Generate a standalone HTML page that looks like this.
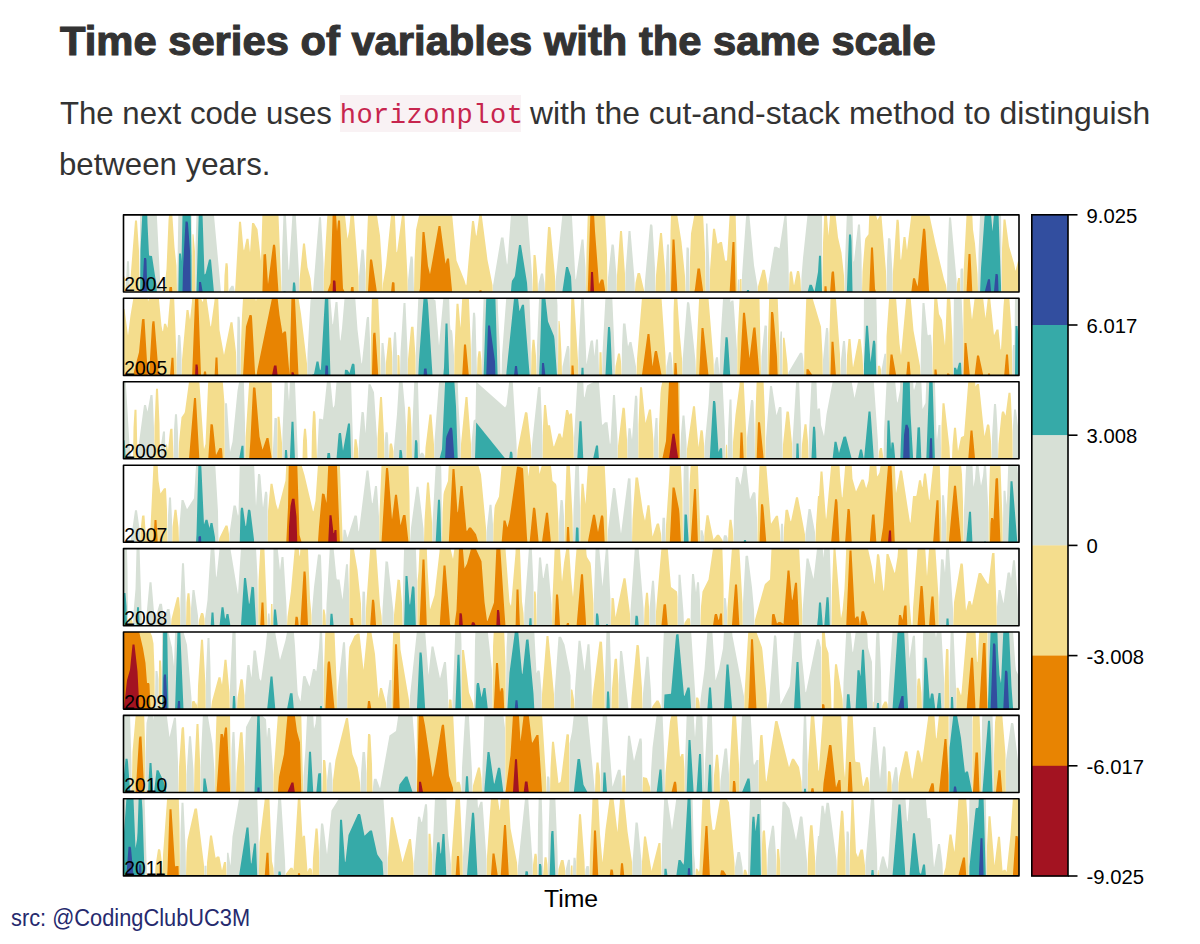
<!DOCTYPE html>
<html><head><meta charset="utf-8"><style>
html,body{margin:0;padding:0;background:#fff;width:1200px;height:944px;overflow:hidden;position:relative}
svg text{font-family:"Liberation Sans",sans-serif}
#t{position:absolute;left:60px;top:17px;margin:0;font:bold 40px/48px "Liberation Sans",sans-serif;color:#333;white-space:nowrap;transform-origin:0 0;transform:scaleX(1.043);-webkit-text-stroke:1.1px #333}
.pt{position:absolute;margin:0;font:31.5px/36px "Liberation Sans",sans-serif;color:#333;white-space:nowrap;transform-origin:0 0}
#cbg{position:absolute;left:340px;top:95px;width:181px;height:37px;background:#f9f2f4}
#code{position:absolute;left:339.7px;top:100.5px;font:27px/30.6px "Liberation Mono",monospace;letter-spacing:0.5px;color:#c7254e;white-space:nowrap}
#s{position:absolute;left:11px;top:902.5px;font:23.5px/30px "Liberation Sans",sans-serif;color:#262a6e;white-space:nowrap;transform-origin:0 0;transform:scaleX(0.928)}
</style></head><body>
<h1 id="t">Time series of variables with the same scale</h1>
<div class="pt" style="left:60.3px;top:95.2px;transform:scaleX(0.989)">The next code uses</div>
<div id="cbg"></div><div id="code">horizonplot</div>
<div class="pt" style="left:530px;top:95.2px;transform:scaleX(1.012)">with the cut-and-stack method to distinguish</div>
<div class="pt" style="left:59.3px;top:146.4px;transform:scaleX(0.99)">between years.</div>
<svg width="1200" height="944" viewBox="0 0 1200 944" style="position:absolute;left:0;top:0">
<defs><clipPath id="c0"><rect x="123.5" y="214.9" width="895.5" height="77.1"/></clipPath><path id="p0" d="M123.5,292 125.6,292 127,261.2 129,261.2 129.9,292 139.5,292 140.5,172.7 144,103.7 146,103.7 146.5,106 147.5,146.5 149,177.9 149.5,178.7 152,178.8 156.5,208.5 160.5,288.4 164,290.7 165,292 177,292 179,176.4 181,176.4 181.5,184.1 183,114.7 185.5,67.4 187.5,67.4 188,69.2 190,96.9 191.5,179.4 191.9,292 195.2,292 195.5,247.3 199,127.8 201,127.8 202.5,136.8 204.5,197.5 205.5,196.6 206,195 209,182.5 211,182.5 221,292 228.5,292 229.5,288.8 231.5,285.8 233.5,285.8 235,292 281.5,292 282,255.3 283.5,214.1 285.5,214.1 286,216.5 288.5,268.9 289,270.4 293,205.5 295,205.5 295.5,209.3 299,274 299.3,292 313,292 319,217.2 321,217.2 323.5,263.1 323.8,292 358.7,292 359,276.3 361.5,249.5 363.5,249.5 364,251.5 365.5,272.9 365.7,292 407.8,292 408,280 410.5,256.6 412.5,256.6 413,259.9 414,292 492.8,292 493,285.5 501,237.5 503.5,237.4 507,264.8 507.5,262.7 511.5,207 512,203.7 514.5,200 515,198.2 519,167.9 521,167.9 527,205.6 532,275.3 532.5,292 538,292 538.5,283.7 541,273.5 543,273.5 544.5,282.7 545,292 555.3,292 555.5,282 562.5,213.6 566,189.9 568,189.9 571,199.5 575.5,279.4 576,278.7 581.5,239.6 583.5,239.6 585.5,267.5 586,292 607.5,292 608,277.8 611.5,244.6 613.5,244.6 614,246.1 616.5,275.7 616.7,292 625.2,292 625.5,272.6 628.5,231 630.5,231 634.5,279 634.9,292 644.5,292 645,280.8 650,224.6 652,224.6 652.5,226 655,268.1 655.5,292 665.7,292 666,264.4 667,244.6 669,244.6 670,292 685.5,292 686.5,247.6 688.5,247.6 689,249.6 689.7,292 705.5,292 706,223.5 707.5,223.5 709.5,267.9 709.8,292 737.5,292 738,279.4 739.5,279.4 739.7,292 741.7,292 742,275.4 746,217.6 747,213 749,213 749.5,216.6 754,265.3 757.5,286.4 757.8,292 767.8,292 768,285.2 774,247.8 774.5,246.7 776.5,246.7 779.5,248.5 784.5,215.7 786.5,215.7 787,224.2 788.5,261.2 789,292 801.1,292 801.5,276.6 803,258.1 807.5,215.3 809.5,207.7 811.5,207.7 812,208.2 814.5,214.8 818,194.9 819,178.7 821,178.7 822,213.4 822.4,292 844.5,292 845,262.4 849,157.4 851,157.4 851.5,164 853.5,261.4 854,261.2 858,224.5 860,224.5 861.5,255 862,292 886.5,292 887,260.9 888,238.3 890,238.3 890.5,239.5 892.5,273.4 892.7,292 947,292 947.5,255.2 949,217.6 951,217.6 956.5,279.1 956.8,292 960.2,292 960.5,269.7 961,268.6 963,268.6 963.3,292 978,292 978.5,254.4 981,191.2 984.5,140.5 985,136.6 988,125.1 990,125.1 992.5,154.3 995.5,119.8 997.5,119.8 998,121.9 1001,208.6 1001.8,292 1019,292Z"/><path id="n0" d="M123.5,292 123.5,276.6 124.5,276.6 125,279 125.6,292 129.9,292 130.5,277.9 135,220.5 137,220.5 139,251.1 139.5,292 165,292 165.5,278.1 166.5,268.9 168.5,220.5 169.5,209.8 170,209.8 172,209.8 174.5,247.3 176.5,265.8 177,292 191.9,292 192.5,234.2 193.5,234.2 195,251.5 195.2,292 224,292 224.5,275.6 225.5,263.2 227.5,263.2 228,267.3 228.5,292 235,292 239,221.8 241,221.8 243.5,249 244,250.4 246.5,238.8 248.5,238.8 250,252.5 252,222.9 254,222.9 257.5,229.2 261,260.9 263.5,177.4 266,177 268,207.2 273,167.7 275,167.7 275.5,171.2 278.5,214.9 281.5,292 299.3,292 299.5,279.7 303,243.5 305,243.5 307.5,267.3 310.5,278.6 312,292 323.8,292 324,272.2 327,220.7 327.5,214.5 330.5,205.9 333,126.2 335,126.2 335.5,127.2 337,154.2 338,143.5 340,143.5 343,211.3 345,215.3 347.5,238.7 349,231.3 351,210.4 351.5,209.8 353.5,209.8 358.5,276.6 358.7,292 365.7,292 366,263.2 368,214.2 370,182.4 372,182.4 372.5,185 380,235.6 382,266.1 382.5,292 383,283.4 386,265.5 392,205.1 394,205.1 394.5,205.9 396.5,252.3 397,252 397.5,249.1 402,215.1 404,215.1 404.5,216 407.5,277 407.8,292 414,292 414.5,261.6 416,229.7 420,211.2 422.5,154.9 424.5,154.9 428,188.8 430,197.2 438.5,148.8 440.5,148.8 445.5,186.6 447,181.4 449,181.4 456.5,260.6 464.5,280.6 466,285.5 466.5,284.3 472,220.9 474,220.9 476,235.3 476.5,235.8 479.5,213.2 481.5,213.2 487.5,259.9 492.5,285 492.8,292 532.5,292 533.5,255 535.5,255 536,258.6 537.5,277.1 538,292 545,292 545.5,267.6 548,226.9 550,226.9 550.5,227.8 555,276.6 555.3,292 586,292 586.5,252.3 591,117.7 593,117.7 595,153.8 599,206.9 601,202.4 603,202.4 603.5,203.1 605,212.5 607,255 607.5,292 616.7,292 617,275.3 620,230.9 622,230.9 625,274.1 625.2,292 634.9,292 635.5,282.8 637.5,273.2 638,272.9 640,272.9 644.5,292 655.5,292 656,275.3 660,233.1 662,233.1 665.5,275.5 665.7,292 670,292 670.5,230.9 672.5,162.3 674.5,162.3 677.5,216.5 681.5,241.9 685,276.1 685.5,292 689.7,292 690,258.5 691,233.5 695,211.3 697.5,191.4 700,191.3 703,212.8 705,252.8 705.5,292 709.8,292 710,270 713,228.7 715,228.7 717.5,243.5 718,243.8 720,241.9 722,241.9 725,260.1 725.5,260.7 727,260.5 732.5,164.8 734.5,164.8 737.5,292 739.7,292 740,279 741.5,279 741.7,292 757.8,292 758,286.4 762.5,269.8 764.5,269.8 765,270.3 767.5,284.1 767.8,292 789,292 789.5,273.9 790,271.6 792,271.6 794,285.4 797,271.1 799,271.1 799.5,273 800.5,279.9 801.1,292 822.4,292 823,243 824.5,209.2 826.5,209.2 828.5,235.8 831.5,196 832,194.3 834,194.3 835.5,214.6 838,237.3 841.5,252.7 844,275.7 844.5,292 862,292 862.5,271.5 865,240.3 865.5,238.3 868.5,234.2 871,170.5 873,170.5 875,211.7 877.5,220 879.5,216 881.5,216 886,271.3 886.5,292 892.7,292 893,271.4 896.5,219.8 898.5,219.8 899,222.9 900.5,258.1 901,260.5 903.5,237 905.5,237 907,250.4 913,201.2 915,201.2 917.5,209.3 918,206.4 923,151.6 925,151.6 925.5,154.7 929,212.9 935.5,243.6 944,278.9 946,285.1 947,292 956.8,292 957,283.9 958,277.9 960,277.9 960.2,292 963.3,292 963.5,273.6 968.5,177 970.5,177 973,229.6 975,243.5 977.5,273.7 978,292 1001.8,292 1002,248.2 1003.5,219.6 1005.5,219.6 1009,246.1 1014,263.4 1015.5,271 1018,261.2 1019,261.2 1019,292Z"/><clipPath id="c1"><rect x="123.5" y="298.3" width="895.5" height="77.1"/></clipPath><path id="p1" d="M123.5,375.4 176.7,375.4 177,355.1 178,334.9 180,334.9 180.5,337.3 181.5,354.9 181.8,375.4 236.5,375.4 237.5,316.8 239.5,316.8 240,321.3 240.8,375.4 307.2,375.4 307.5,353.8 310.5,300.6 311,298.2 314,296.8 316.5,284.4 318.5,284.4 320,292.8 320.5,292.8 321,290.9 325.5,211.4 327.5,211.4 328,212.6 330.5,299.9 332.5,324.5 333,323.8 335.5,302.1 337.5,302.1 340,340.4 340.5,340.3 342,328.2 345,292.6 347.5,292.8 349.5,295.8 352,286.6 354,286.6 354.5,287.6 357.5,329.5 361.5,363.8 362,362.6 366.5,319.3 367,317.1 369,317.1 370,339.3 370.5,375.4 380.5,375.4 381.5,343 383.5,343 385.5,363.8 385.7,375.4 392.3,375.4 392.5,358.1 394,332.2 396,332.2 397,353 397.3,375.4 400,375.4 400.5,352 403.5,302.9 405.5,302.9 407.5,351.2 407.8,375.4 415.7,375.4 416,349.5 419,282.9 424,214.8 424.5,214.3 426.5,214.3 428,226.6 432.5,298.4 435.5,300.6 439,346.1 444,290.6 445.5,246.4 447.5,246.4 450,324 450.5,329.4 452,330.5 452.5,334.3 454,355.7 454.2,375.4 471.2,375.4 471.5,344.5 473,312.7 475,312.7 475.5,318 477,375.4 482,375.4 482.5,329.2 488,171.3 490,171.3 495,207.2 498,310.9 500,351.6 500.5,375.4 501.5,375.4 502,355.5 506.5,294.5 515,211.9 517,211.9 519.5,234.1 522,227.7 524,227.7 529.5,296.3 530.5,330.2 531,375.4 536.5,375.4 537,345.8 540,276.9 542,208.9 544,208.9 548,244.4 554,259 554.5,262.2 557.5,305.3 557.9,375.4 562,375.4 562.5,366.6 567,345.9 569,345.9 569.5,349.5 570.1,375.4 578.2,375.4 578.5,351.7 581.5,290.6 583.5,290.6 586.5,364.5 590.5,341.4 591,340.5 593,340.5 594.5,356.3 596,339.4 598,339.4 599.1,375.4 602.2,375.4 602.5,352.8 608,249.8 610,249.8 610.5,255.6 614.5,349.9 615,375.4 621.5,375.4 622,345.8 623,323.6 623.5,323.4 625.5,323.4 628,346.4 629.5,341.9 631.5,341.9 636,366.4 636.5,375.4 666,375.4 666.5,366.2 669,352.3 671,352.3 672,359.7 673,375.4 682.3,375.4 682.5,362.1 687,302.3 689,302.3 689.5,304.2 695.5,360.9 696,375.4 714,375.4 714.5,364.6 716,357.2 718,357.2 719.6,375.4 720,350.9 721,330.8 725.5,260.1 727.5,260.1 728,263.4 730.5,302.4 731.5,300.6 733.5,300.6 737,350.5 737.2,375.4 761,375.4 761.5,356.3 764.5,325.6 766.5,325.6 767,326.5 767.7,375.4 779.7,375.4 780,339.3 780.5,331.6 782,331.6 782.4,375.4 788,375.4 788.5,372.2 800,352.7 802,352.7 802.5,354.1 803.5,361.5 804,375.4 822.8,375.4 823,360 826,327.9 828,327.9 828.5,333.3 829.2,375.4 840.5,375.4 841,359.8 843,341.1 845,341.1 846,355 846.5,375.4 863.5,375.4 864,286.9 866,248.6 868,248.6 870.5,285.2 873,263.6 875,263.6 875.5,267.6 877,326.9 877.5,375.4 881.3,375.4 881.5,370 884.5,353.7 886,353.7 886.2,375.4 920.5,375.4 921,340.3 922.5,303 924.5,303 927.5,334.1 928,335.4 929,334.7 931,334.7 932,347.6 932.5,375.4 953,375.4 954,290.7 956,290.7 957,293.1 959,285.6 961,285.6 961.5,295.1 963,329.8 963.2,375.4 1012.3,375.4 1012.5,351.5 1013,345.1 1014.5,345.1 1015.5,248.8 1017.5,248.8 1019,264.6 1019,375.4Z"/><path id="n1" d="M123.5,375.4 123.5,309.1 124.5,309.1 128,335.6 130.5,315.2 134,294.5 139,275.2 142,242.6 142.5,241.9 144.5,241.9 148,301.4 149,298.3 152,247.7 152.5,244.1 154.5,244.1 158.5,294.5 161.5,325.7 162.5,331 163,331.2 164,323.8 166,323.8 167.5,327.9 171.5,280.6 173.5,280.6 176.5,358.1 176.7,375.4 181.8,375.4 182,360 186.5,309.9 188.5,309.9 190,319.9 192,301.4 195.5,210.4 197.5,210.4 198,213.5 201,298.3 202.5,301.8 203,301.4 204,294.5 206,294.5 210.5,326.6 211,326.1 214.5,300.4 215.5,280.4 217.5,280.4 219.5,330.1 224,355.1 230.5,322.2 232.5,322.2 236,352.3 236.5,375.4 240.8,375.4 241,343 242,315.3 246,249.4 249.5,237.8 251.5,237.8 252,239.7 255,295.2 256,301.6 257.5,292.1 274,211.3 274.5,211.2 276.5,211.2 279.5,237.8 282.5,256.5 284,254.4 286,254.4 289.5,297.7 291.5,218.1 293.5,218.1 295,222.3 298.5,298.3 301,313.7 307,363.8 307.2,375.4 370.5,375.4 371,333 373,258.2 373.5,255.6 375.5,255.6 378,293.9 380,340.5 380.5,375.4 385.7,375.4 386,361.9 388.5,337.4 391,337.7 392,352.8 392.3,375.4 397.3,375.4 397.5,355.1 399,355.1 399.5,356.5 400,375.4 407.8,375.4 408,359.2 411,326.9 411.5,326.8 413.5,326.8 415.5,356 415.7,375.4 454.2,375.4 454.5,349.6 456.5,303.7 458.5,303.7 460.5,327.9 464,267.4 466,267.4 469,300.4 471,349.7 471.2,375.4 477,375.4 477.5,358.2 478.5,351.2 480.5,351.2 481.5,360.5 482,375.4 500.5,375.4 501,372.5 501.5,375.4 531,375.4 531.5,353.1 532.5,339.7 534.5,339.7 536,356.1 536.5,375.4 557.9,375.4 558.5,321 559.5,321 560,326.1 561.5,353.8 562,375.4 570.1,375.4 570.5,329.3 571.5,288.3 573.5,288.3 578,360.6 578.2,375.4 599.1,375.4 599.5,352.2 601.5,352.2 602.2,375.4 615,375.4 615.5,366.3 618,353.4 620,353.4 621,361.7 621.5,375.4 636.5,375.4 637,359 642,297.7 647.5,257 649.5,257 652.5,289.5 654.5,275.3 655,273.8 657,273.8 661.5,297.7 665.5,355.7 666,375.4 673,375.4 673.5,313.3 674.5,285.8 676.5,285.8 679.5,331 682,358.8 682.3,375.4 696,375.4 696.5,350.2 701.5,250.9 703.5,250.9 708.5,298.3 713.5,360 714,375.4 719.4,375.4 719.5,372.3 719.6,375.4 737.2,375.4 737.5,336.6 743,235.6 745,235.6 749.5,281.1 753,252.1 753.5,250.5 755.5,250.5 759.5,297.8 761,375.4 767.7,375.4 768,338.1 771,234.9 773,234.9 773.5,237.1 777,279.8 779.5,345.4 779.7,375.4 782.4,375.4 783,337.8 784.5,337.8 785,341.1 787.5,364.2 788,375.4 804,375.4 804.5,345.4 806.5,292.2 808.5,292.2 812.5,298.1 821,326.8 822.5,355.3 822.8,375.4 829.2,375.4 829.5,332.3 831.5,264.7 833.5,264.7 840,354.3 840.5,375.4 846.5,375.4 847,355.6 848.5,339.1 850.5,339.1 853,367.5 858.5,339.1 860.5,339.1 861,341.9 862.5,356 863.5,375.4 877.5,375.4 878,365.7 880,365.7 881,369.6 881.3,375.4 886.2,375.4 886.5,336.5 890.5,277.3 892.5,277.3 896,297.4 899.5,343.5 901,355.3 907.5,284.6 909.5,284.6 913.5,330.6 920,366.1 920.5,375.4 932.5,375.4 933,333.8 934.5,292.4 936.5,292.4 939,314 942,320.1 945,345.7 947,296.3 949,296.3 950,297.8 950.5,302 952.5,341.2 953,375.4 963.2,375.4 963.5,302 964.5,266 966.5,266 972,319.8 977,278.4 979,278.4 983,297 985.5,318.3 988,296.4 990,296.4 994,335.2 996.5,329.5 998.5,329.5 1000.5,349.1 1001,349.8 1003.5,305.9 1006,277.3 1008,277.3 1011.5,330 1012.3,375.4 1019,375.4Z"/><clipPath id="c2"><rect x="123.5" y="381.7" width="895.5" height="77.1"/></clipPath><path id="p2" d="M123.5,458.8 123.5,363.2 124.5,363.2 125,368.2 129.5,445 131,458.8 137.5,458.8 138.5,446.5 144,404.9 146,404.9 147.5,411.7 150.5,395 152.5,395 153,402.7 154,428.6 154.2,458.8 160,458.8 161,445.1 163,431.5 165,431.5 165.4,458.8 173.5,458.8 174,429.4 175,414.2 177,414.2 178,433.3 178.5,458.8 224.7,458.8 225,403.2 227,403.2 230,452.1 232.5,441.7 237.5,390.8 241.5,368.6 243.5,368.6 245,422.8 245.3,458.8 272.5,458.8 274.5,417.9 276.5,417.9 277,418.7 277.2,458.8 282.2,458.8 282.5,432.2 285,372.8 287,372.8 289,401.4 291.5,344.7 293.5,344.7 298,458.8 317,458.8 319,418.7 321,418.7 323,419.5 327.5,375.8 330,375.9 333,407.3 333.5,407.6 334.5,405.2 335,400.3 338.5,357.5 339,355.8 341,355.8 343,373.6 348,346.5 350,346.5 353.5,458.8 358.5,458.8 359,441.6 361.5,412 363.5,412 364,413.4 365.5,433.4 368.5,384.3 370.5,384.3 374,392.3 377,438.3 377.3,458.8 384.3,458.8 384.5,443.6 385.5,432.2 387.5,432.2 388,434.9 388.9,458.8 393.7,458.8 394,447.3 397,414 399.5,373 401.5,373 402,375.1 405,408.4 406,426.5 406.3,458.8 412,458.8 412.5,424.2 415,363.2 417,363.2 417.5,366.5 420,454.8 421,452.8 423,452.8 424.5,455.5 425,458.8 434.2,458.8 434.5,441.1 438.5,387.9 439,383.4 442,372.2 446,284.9 446.5,282 450,273.6 452,273.6 452.5,276.8 456,329.2 458.5,404.9 460.5,439.4 460.8,458.8 471.2,458.8 471.5,443 473.5,421.2 474,420.1 504.5,408.6 506.5,404.9 510,374.6 512,374.6 512.5,377 516.5,443.6 517,458.8 531.3,458.8 531.5,449 538,387.6 538.5,387 540.5,387 542.5,434.9 542.7,458.8 573.8,458.8 574,438 579.5,344.2 581.5,344.2 584,396.6 584.5,397.4 587,385.5 593,382.3 596,368.3 598,368.3 602,423.7 602.5,424.9 605,422.3 607.5,422.2 610,444.4 610.5,442.3 613,394.9 615,394.9 617.5,438.7 617.8,458.8 627.3,458.8 627.5,440.5 628.5,428.2 630.5,428.2 632,439.7 635,395.7 637,395.7 637.5,399.8 638.3,458.8 653.7,458.8 654,439.6 655.5,418 657.5,418 658.5,458.8 680,458.8 681,434 682.5,415.4 684.5,415.4 686.5,442.4 686.8,458.8 704.3,458.8 704.5,446.8 708.5,404.2 713,323.8 715,323.8 715.5,326.2 718.5,375 720,371.1 722,371.1 725,432.3 725.4,458.8 727.6,458.8 728,432.1 729.5,399.6 731.5,399.6 732.8,458.8 746.7,458.8 747,437.6 751,399.9 753,399.9 753.5,401.9 754.5,424.7 755,458.8 765.5,458.8 766,438.2 770,386.1 772,386.1 776.5,415.3 779,407.1 781,407.1 781.5,407.8 782.8,458.8 792.2,458.8 792.5,442.2 796,383.9 796.5,366.3 798.5,366.3 801,428 801.5,458.8 808.5,458.8 809,431.9 813,349.6 815,349.6 815.5,354.7 817.5,409.9 818,408.6 820,408.6 821,424.9 824,436.2 826.5,414.2 832.5,382.6 834.5,364.6 836.5,364.6 839,375.8 843.5,359.6 846,359.5 851.5,380.8 854.5,397.9 860,372.5 862,372.5 864,382.4 868.5,334.4 870.5,334.4 871,340.4 878,442.6 878.5,458.8 883.5,458.8 884,431.5 886.5,383.5 887.5,343.4 889.5,343.4 891,372.3 891.5,365.5 893.5,365.5 894,368.4 897,401.5 897.5,402.8 900,390.2 904,280.7 905.5,270.5 907.5,270.5 909,274.9 910.5,335.8 913.5,387.7 914,390.3 916,383.1 917.5,350.5 920,350.2 922.5,408.9 925.5,403.1 930,284 932,284 936.5,434 937,440.2 938.5,424.9 940.5,424.9 941.2,458.8 991.5,458.8 992,437.1 994,404.1 996,404.1 996.5,410.4 997.5,429.8 998,458.8 1012.7,458.8 1013,425.8 1014,409.4 1016,409.4 1019,434.4 1019,458.8Z"/><path id="n2" d="M123.5,458.8 133,458.8 133.5,427.8 134.5,409.7 136.5,409.7 137.5,458.8 154.2,458.8 154.5,425.8 156,388.7 158,388.7 159.5,423.8 160,458.8 165.4,458.8 166,444.4 167,444.4 168,450.6 170,430.1 170.5,428.8 172.5,428.8 173.5,458.8 178.5,458.8 179,442.2 181.5,417.2 184.5,413 185,411.3 189,381.7 194,320.8 196,320.8 199.5,384.2 204,449.2 205.5,444 208,385.9 210.5,347.2 212.5,347.2 213,348.4 216,377.8 219.5,370.8 221.5,370.8 222,372 224.5,403.3 224.7,458.8 245.3,458.8 245.5,438 250.5,361.3 253,310.4 255,310.4 255.5,311.1 259.5,359.4 262.5,372.7 266.5,360.9 268.5,360.9 271.5,379.7 272,389.4 272.5,458.8 277.2,458.8 277.5,416.7 279.5,416.7 282,443 282.2,458.8 302.5,458.8 303,440.8 304,428.8 306,428.8 307,440.8 307.5,458.8 311.5,458.8 312,431.7 313,411.3 315,411.3 315.5,414.7 317,458.8 353.5,458.8 354.5,439.3 356.5,439.3 358,449 358.5,458.8 377.3,458.8 377.5,438.7 380,397.1 382,397.1 384,435.5 384.3,458.8 388.9,458.8 389.5,445.2 390,443.5 392,443.5 393.5,451.3 393.7,458.8 406.3,458.8 406.5,437.5 408,406.7 410,406.7 410.5,409.7 411.5,428.7 412,458.8 425,458.8 425.5,447.6 429.5,414.4 431.5,414.4 434,444.7 434.2,458.8 460.8,458.8 461,444.1 465.5,397 467.5,397 471,444.6 471.2,458.8 517,458.8 517.5,450.6 525,412.3 527,412.3 527.5,413.3 531,445.5 531.3,458.8 542.7,458.8 543,426.5 544,404.9 546,404.9 548,425.2 550,425.2 553.5,445.9 554,446.4 558.5,433.6 560.5,433.6 562,437.9 562.5,437 566,409.9 568,409.9 569.5,415.1 570,413.6 572,413.6 573.5,437.8 573.8,458.8 617.8,458.8 618,446.1 622.5,407.8 624.5,407.8 625,409.4 627,439.4 627.3,458.8 638.3,458.8 638.5,424.7 640,387.3 642,387.3 645.5,423 649,409.5 651,409.5 653.5,441.2 653.7,458.8 658.5,458.8 659,426.5 660.5,393.2 661,388 666,363.9 669,304.6 672.5,279.5 674.5,279.5 678,302.7 679.5,373.4 680,458.8 686.8,458.8 687,449.1 693,406.2 695,406.2 698.5,447.2 700.5,430.2 702.5,430.2 703,432.5 704,443.6 704.3,458.8 725.4,458.8 726,444.7 727,444.7 727.6,458.8 732.8,458.8 733,442.2 735.5,414.4 739.5,384.9 740.5,355.4 742.5,355.4 746.5,439.7 746.7,458.8 755,458.8 755.5,412.6 758,345.1 760,345.1 763.5,379.7 765,418.5 765.5,458.8 782.8,458.8 783,444.6 786.5,411.5 788.5,411.5 789,412.5 792,443.4 792.2,458.8 801.5,458.8 802,443.9 804.5,424.3 806.5,424.3 808,441.3 808.5,458.8 878.5,458.8 879,451.7 880,448.1 882,448.1 883.5,458.8 941.2,458.8 941.5,425 942.5,403.2 944.5,403.2 949.5,447.2 950,458.8 952,458.8 952.5,445.1 954,427.8 956,427.8 958,451.3 961,437.2 964,435.8 970.5,353.5 972.5,353.5 975.5,386.4 977,384.1 979,384.1 984.5,436.3 987,424.6 989,424.6 989.5,425.9 991,441.4 991.5,458.8 998,458.8 998.5,443.8 1001.5,413.8 1002,411.6 1004,411.6 1005.5,415.7 1008.5,392.7 1010.5,392.7 1011,400.2 1012.5,432.9 1012.7,458.8 1019,458.8Z"/><clipPath id="c3"><rect x="123.5" y="465.2" width="895.5" height="77.1"/></clipPath><path id="p3" d="M123.5,542.3 130.5,542.3 135,510.3 137,510.3 140,532.4 140.2,542.3 167.5,542.3 168,515.4 169,497.5 171,497.5 172,519.9 172.3,542.3 179,542.3 179.5,525.3 181.5,499.9 183.5,499.9 187,509.3 194,498.3 196.5,457.4 198.5,382.7 199,382 201,382 204,447.5 205.5,442.7 207.5,442.7 209.5,450.9 210.5,445.9 212.5,445.9 215,460.2 218,511.4 218.5,542.3 229.2,542.3 229.5,533.1 233.5,505.6 235.5,505.6 236,506.1 238,516.1 238.5,513.7 240.5,434.7 241,430.6 243,430.6 245.5,448.6 246,448.8 248,432.6 250,432.6 250.5,433.9 254,462.4 256,506.3 258,474.1 260,474.1 260.5,476.1 263,507.4 265,491.7 267,491.7 267.5,495.4 267.8,542.3 342.8,542.3 343.5,529.8 345.5,529.8 347.5,537.8 354.5,515.6 356.5,515.6 357,516.2 358.5,531.6 359,530.6 366.5,470.6 368.5,470.6 372,502.9 372.5,503.3 375,486.1 377,486.1 379,516.8 379.2,542.3 410,542.3 411,527.5 416.5,486.7 418.5,486.7 423.5,528.4 424,542.3 432.3,542.3 432.5,523.8 438,422.7 440,422.7 440.5,434.8 441.5,480 442,542.3 486.3,542.3 486.5,531.9 489.5,504.8 491.5,504.8 493,524.6 493.2,542.3 558.7,542.3 559,521.4 560.5,499.9 562.5,499.9 563,502.3 564,516.6 564.6,542.3 573,542.3 573.5,509.7 576,450.5 578,450.5 578.5,451.2 580,505.8 580.3,542.3 607.5,542.3 608,529.8 613,488.1 615,488.1 615.5,489.4 621,533.8 628,478.2 630.5,478.5 631.5,505.4 632,542.3 661.5,542.3 662.5,517.8 665,517.8 665.8,542.3 683,542.3 683.5,480 684.5,437.3 686.5,437.3 687,438 688.5,461.8 689.3,542.3 700.3,542.3 700.5,530.2 702.5,530.2 704,536.5 704.2,542.3 723,542.3 723.5,537.2 724,535.3 724.5,535.3 726.5,535.3 727.5,537.7 728,542.3 733.5,542.3 734,511.3 735.5,479.5 736,477 738,477 740.5,484.9 744,462.8 746,462.8 750,499.4 753,492.3 755,492.3 755.5,493.4 757,517.8 757.5,542.3 780.2,542.3 781,523.8 783,523.8 783.7,542.3 805.2,542.3 805.5,533.4 808.5,509 810.5,509 811,510.6 815,532.3 815.5,542.3 941.3,542.3 942,495.3 944,495.3 946,522.9 946.2,542.3 963.5,542.3 964,509.9 966,468 969,434.7 971,434.7 973.5,486.9 975,478.4 976,464.8 978.5,465.2 981,485.8 983,475.8 984,464.3 986,464.3 988.5,512.2 988.7,542.3 1002.7,542.3 1003.5,490.8 1005.5,490.8 1006.5,504.9 1007,499.1 1010.5,404.2 1012.5,404.2 1019,486.4 1019,542.3Z"/><path id="n3" d="M123.5,542.3 140.2,542.3 140.5,530.9 142,516.2 142.5,515.4 144.5,515.4 146,537.4 150.5,527.2 154.5,442.9 156.5,442.9 158.5,480.6 160.5,493.5 164,488.3 166,488.3 167,509.9 167.5,542.3 172.3,542.3 172.5,527 174.5,509.8 176.5,509.8 178.5,527.5 179,542.3 218.5,542.3 219.5,537.8 225.5,525.6 227.5,525.6 228,527.6 229,534.3 229.2,542.3 267.8,542.3 268,511.1 270.5,483.8 272.5,483.8 276,503.7 278,509.7 285.5,480.5 288,430.2 289,372.6 290.5,351.8 292,344.6 292.5,344.5 294.5,344.5 296.5,362.6 299.5,458 304.5,475.1 313,511.3 313.5,510.9 315.5,500.7 319,449.7 322,416.4 324.5,416.8 326.5,426 329.5,361 331.5,361 333.5,378.8 334,378.9 334.5,375.7 336.5,375.7 342.8,542.3 379.2,542.3 379.5,514.5 381.5,465.2 386,391 388,391 388.5,395.2 392,442.5 395,417.7 397,417.7 400.5,448.1 403,438.2 403.5,437.8 405.5,437.8 408.5,465.2 409.5,496 410,542.3 424,542.3 424.5,520.6 427,482.5 429,482.5 432,522.3 432.3,542.3 442,542.3 442.5,512.7 443.5,494.4 444,491.8 448,481 452.5,392 454.5,392 457.5,435.3 458,434.5 460.5,409 462.5,409 466.5,453.4 467,453.8 469,450.5 471,450.5 476,457.2 481,474.5 486,527.5 486.3,542.3 493.2,542.3 493.5,523.8 494.5,508 495,505.2 499,496.5 503.5,443.3 505.5,443.3 507.5,450.4 509.5,442.5 517,389.6 519,389.6 523,391.1 527,460.7 528.5,476.4 533,430.6 535,430.6 535.5,432.7 539.5,474.1 542,464.6 546,435.7 548,435.7 552.5,480.8 556,484 556.5,486 558.5,523 558.7,542.3 564.6,542.3 565,505.9 567,449.9 569,449.9 572.5,515.8 573,542.3 580.3,542.3 580.5,507.1 581.5,483.7 583.5,483.7 585.5,504 588,463.8 593,437.6 595,437.6 598,454.9 601,438.4 603,438.4 603.5,440.9 607,511.8 607.5,542.3 632,542.3 632.5,519.5 635.5,477.5 636,477.5 638,477.5 643,512 645,520.7 647.5,505.3 649.5,505.3 652.5,536.6 656.5,524.3 657,523.4 659,523.4 661,533.7 661.5,542.3 665.8,542.3 666,525 669,480.6 672.5,410.5 674.5,410.5 675,411.9 679,431.9 679.5,437 682.5,498.6 683,542.3 689.3,542.3 689.5,484.6 694,412 696,412 700,522.2 700.3,542.3 704.2,542.3 704.5,532.5 706.5,515.3 708.5,515.3 713.5,539.6 717,534.7 719,534.7 722.5,539.9 723,542.3 728,542.3 728.5,529.3 729.5,519.7 731.5,519.7 733,530.8 733.5,542.3 757.5,542.3 758,503.9 761,427.2 763,427.2 763.5,430.4 771,523.7 776,515.7 778,515.7 780,531.8 780.2,542.3 783.7,542.3 784,527.7 785.5,510.3 786,509.8 788,509.8 790.5,520.9 791,521.2 796,497.2 798,497.2 805,534.5 805.2,542.3 815.5,542.3 816,525 817.5,502.8 818,496 819,496 820.5,471.6 822.5,471.6 826,519.6 826.5,516.5 835,422.2 837,422.2 837.5,425.3 840,475.2 842,497.8 842.5,496.8 844.5,474.3 847.5,431.8 849.5,431.8 850,434.3 852.5,478.8 856,491.6 861.5,479.5 863.5,479.5 864,480.2 866,487.8 866.5,487.5 868.5,480.7 872,438 872.5,437.4 874.5,437.4 877,475 877.5,476.4 879.5,472.4 883,450.1 889,376.3 891,376.3 896,493.3 900,470.6 902,470.6 910,522.5 910.5,522.6 913,496 916,496 916.5,495.2 919,480.2 921,480.2 922,486.6 922.5,486.9 924,473.4 926,473.4 929,499.4 929.5,500.1 933,466.2 936.5,423.1 938.5,423.1 941,504.8 941.3,542.3 946.2,542.3 946.5,517.6 949,463.2 954,408.6 956,408.6 962,474.8 963,501.9 963.5,542.3 988.7,542.3 989,497.6 990.5,445.8 991,441 993,441 993.5,442.9 995.5,402.1 996,401.1 998,401.1 1002.5,519.1 1002.7,542.3 1019,542.3Z"/><clipPath id="c4"><rect x="123.5" y="548.6" width="895.5" height="77.1"/></clipPath><path id="p4" d="M123.5,625.7 123.5,515.9 125.5,515.9 126.5,528.8 127.5,570.2 128,625.7 133,625.7 133.5,612.2 135.5,589.1 137,530.1 139,530.1 142,625.7 145.5,625.7 149.5,582.2 151.5,582.2 154.5,617.8 155,619.3 159.5,603.7 161.5,603.7 162,604.1 164,619.8 167,609.1 169.5,609.1 170.5,616.2 171,625.7 180.2,625.7 180.5,598.4 182,563.2 184,563.2 185.5,596.3 186,625.7 190.8,625.7 191,608.4 192.5,589.9 194.5,589.9 198,615.8 198.5,625.7 204.8,625.7 205,618.7 207.5,599.9 211.5,535.5 213.5,535.5 216,575.4 216.5,577.4 221.5,530.1 223.5,530.1 225,541.2 225.5,541.6 226.5,537 228.5,537 238,594.6 244,500.8 246,500.8 249,526.9 249.5,526.1 251.5,509.7 254,510.1 257.5,576.3 258.2,625.7 267.5,625.7 268,613.4 269.5,613.4 270.5,625.7 273,625.7 273.5,541.4 274,532.5 276,532.5 280,570.2 281.5,557.1 283.5,557.1 286.5,606.5 287,625.7 311.7,625.7 312,610.3 314,587.1 318,554.6 318.5,554.4 320.5,554.4 321,556.3 322,584.4 322.5,625.7 326,625.7 326.5,604.2 330.5,536.7 332.5,536.7 336.5,578.1 337,579.4 339.5,579.4 342.5,599.8 346,564.2 348,564.2 349,590.7 349.2,625.7 361.5,625.7 362.5,591.4 365,591.8 365.8,625.7 382.1,625.7 382.5,609.6 385.5,561.3 388,561.7 393.5,612.3 393.8,625.7 402.6,625.7 403,586.8 405.5,499 407.5,499 409.5,526.2 410,527.8 412,509.3 414,509.3 414.5,510.8 417,580.2 417.3,625.7 524,625.7 524.5,607.3 529.5,541.2 531.5,541.2 533.5,586.6 533.8,625.7 536.7,625.7 537,595.7 539,557.6 541,557.6 543,577.9 543.5,578 546,563.7 548,563.7 551.5,604.2 552.1,625.7 593.7,625.7 594,595.1 596,536.4 598,536.4 598.5,539.2 602.5,586.6 606,547.2 608,547.2 610.5,600.5 610.8,625.7 630.2,625.7 630.5,610.2 635.5,538.6 637.5,538.6 638,540.3 643.5,607.8 644,625.7 649.3,625.7 649.5,609.2 652,580.7 654,580.7 655.5,604.5 655.8,625.7 677.7,625.7 678.5,574.8 680.5,574.8 683.5,612.6 684,625.7 690.5,625.7 691,596.3 692,574 694,574 696,592.6 697,582.3 699,582.3 700,599.7 700.4,625.7 723.8,625.7 724,597.9 725.5,597.9 726,599.6 727,611 727.2,625.7 742.7,625.7 743,602.1 745.5,556.3 746,555.8 748,555.8 752,587.5 754,609.7 754.5,625.7 802.3,625.7 802.5,611.4 806.5,558.6 808.5,558.6 813.5,579.1 818,540.3 819,525.5 821,525.5 823.5,558 826.5,520.1 828.5,520.1 829,526.9 831,585.3 831.5,625.7 911.5,625.7 912,621.8 912.6,625.7 938.8,625.7 939,602.6 941,559.3 943.5,559.6 945,573.1 946.5,541.4 948.5,541.4 953,608.9 953.2,625.7 996.8,625.7 997,607 998.5,590.1 1000.5,590.1 1003.5,603.6 1007.5,572.9 1008,572.5 1010,572.5 1011,578.8 1013,560.2 1015,560.2 1019,615.8 1019,625.7Z"/><path id="n4" d="M123.5,625.7 128,625.7 129,618 131,618 132.5,621.4 133,625.7 171,625.7 171.5,619 177,597.2 179,597.2 180,609.4 180.2,625.7 186,625.7 186.5,602.5 187.5,593.3 189.5,593.3 190.5,607.2 190.8,625.7 198.5,625.7 199,620 201,613.1 203,613.1 203.5,614.1 204.5,618.7 204.8,625.7 258.2,625.7 258.5,581 261.5,525.5 263.5,525.5 267.5,625.7 270.5,625.7 271,604.1 272.5,604.1 273,625.7 287,625.7 287.5,616.8 291,591 295.5,539.7 297.5,539.7 298,541.2 299.5,556.4 300,554.5 303.5,494.4 305.5,494.4 306,499.8 310,598.4 311.5,614.9 311.7,625.7 322.5,625.7 323,609.4 324.5,609.4 325.5,615.3 326,625.7 349.2,625.7 349.5,570.4 350.5,540.8 352.5,540.8 357.5,569.8 361,604.1 361.5,625.7 365.8,625.7 366,608.4 372,522.6 374,522.6 374.5,526.2 380,604.9 381.5,615.8 382.1,625.7 393.8,625.7 394,615.1 397.5,579.6 400,580 402,603.3 402.6,625.7 417.3,625.7 417.5,581.2 418.5,571 422.5,482.4 424.5,482.4 427.5,568.1 430,609.5 434.5,595.3 439.5,551.5 443.5,488.5 445.5,488.5 450,546.4 453,559.1 456.5,533.2 459.5,459.1 461.5,459.1 462,460.7 464.5,491.4 467,486.6 472,468.1 474,468.1 474.5,468.6 481.5,484.2 484.5,524.9 487,543.6 487.5,543.8 494,525.5 497,455.9 499,455.9 499.5,458.7 504.5,535.4 509.5,602 510,603.7 511,606.1 515.5,553 516.5,512.3 518.5,512.3 522,601.5 523.5,613.3 524,625.7 533.8,625.7 534,591.4 535.5,591.4 536,594.8 536.7,625.7 552.1,625.7 552.5,597.9 556,517.3 558,517.3 558.5,522.6 562,581.7 564,562.7 566.5,547.3 567,546 569,546 571,577.1 573,597.3 575.5,561.1 581,497.1 583,497.1 586.5,554.2 587,556.9 590.5,562.7 591,566.4 593.5,603.8 593.7,625.7 610.8,625.7 611.5,597.9 613.5,597.9 614,599.2 615.5,617.3 623.5,578.3 625.5,578.3 626,581.3 630,614.1 630.2,625.7 644,625.7 644.5,608.9 646,592.7 648,592.7 649,606.7 649.3,625.7 655.8,625.7 656,611.8 661,552.9 663.5,527.6 664,527.2 666,527.2 671,587.1 677,591.6 677.5,596.8 677.7,625.7 684,625.7 684.5,622.8 687.5,618.3 689.5,618.3 690,618.9 690.5,625.7 700.4,625.7 701,606.2 702.5,591.4 708.5,579.6 714.5,538.2 715,536.9 717,536.9 718.5,542.8 719,542.4 720,536.5 722,536.5 723.5,584.4 723.8,625.7 727.2,625.7 727.5,607.8 735,507.5 737,507.5 737.5,515.1 742.5,603.6 742.7,625.7 754.5,625.7 755,619.8 764.5,585.3 765,583.9 770,579.5 772,538.1 772.5,537 774.5,537 777,546.4 778.5,544.8 780.5,544.8 783.5,547 787.5,493.5 789.5,493.5 792,522.9 792.5,522.3 795,505.7 797,505.7 802,605.2 802.3,625.7 831.5,625.7 832,587.4 833.5,549.1 835.5,549.1 841,618.2 842.5,610.6 844.5,588.5 849.5,473.3 851.5,473.3 855,541.5 856.5,539.5 858.5,539.5 860,548.6 861.5,535 862,534.2 864,534.2 868,548.7 872,566.7 874.5,584.6 877,554.2 879,554.2 879.5,556.8 883.5,590.8 884,590.3 886.5,554.1 888.5,554.1 894.5,572.7 895,572.6 897.5,556.8 899,538 901,538 902.5,542.9 904,529.8 904.5,528.4 906.5,528.4 909.5,602.2 911.5,625.7 912.6,625.7 913,608.5 920.5,508.8 922.5,508.8 923,513.1 927,576.3 931,522.8 931.5,519.3 933.5,519.3 938.5,596.8 938.8,625.7 953.2,625.7 954,602.3 960.5,563.4 962.5,563.4 963,565.3 966,610.8 968.5,601.1 970.5,601.1 972,605.5 978.5,573.6 979,572.9 981,572.9 986,581.2 988,584.1 988.5,583.8 992,553.5 992.5,553.1 994.5,553.1 996.5,606.1 996.8,625.7 1019,625.7Z"/><clipPath id="c5"><rect x="123.5" y="632" width="895.5" height="77.1"/></clipPath><path id="p5" d="M123.5,709.1 154.8,709.1 155.5,671.1 157.5,671.1 158.5,679.6 158.7,709.1 161.7,709.1 162,646.7 163.5,524.3 164,520.4 166,520.4 167,540 168.5,632.6 172,647.4 174,666.5 177.5,552.9 178,546.9 180,546.9 183.5,632 187,644.8 191.5,698.3 191.8,709.1 205.7,709.1 206,673.5 207.5,637.9 209.5,637.9 210.5,668.4 211,709.1 229.7,709.1 230,686.5 233,618.8 235,618.8 235.5,627.6 237,709.1 244.8,709.1 245,695.5 247,668.2 247.5,664.9 249.5,664.9 251.5,677.7 253.5,650.5 255.5,650.5 256,650.9 259.5,678.5 261,681 265.5,648.6 270.5,599.3 272.5,599.3 275.5,634.2 280,660.1 285.5,640.3 290,616.1 292.5,616.2 295,645.5 297.5,690.6 298,694.7 300.5,701.6 303,676.9 303.5,676.1 305.5,676.1 309.5,686.6 313,669.1 315,669.1 316,671.6 316.5,670.5 319,647.4 320,628.9 322,628.9 323.5,671.7 323.7,709.1 337,709.1 337.5,692 343,642.2 345,642.2 347,685.6 347.2,709.1 386.5,709.1 387,698.1 389.5,680 391.5,680 391.7,709.1 409.5,709.1 410,696 417,630.2 419.5,575.4 421.5,575.4 422,578.9 425,629.2 428.5,675 431.5,646.6 433.5,646.6 440,678.6 444,662.1 446,662.1 448,692.2 448.4,709.1 452.2,709.1 457.5,577.6 459.5,577.6 460,592.4 461.5,644.5 461.8,709.1 474,709.1 475,641.3 476.5,608.2 477,605.9 479,605.9 481.5,620.3 483.5,610.8 485.5,610.8 492,670.1 492.5,709.1 505.8,709.1 506.5,647.4 509.5,595.6 514.5,557.4 515.5,546.1 517.5,546.1 522,596.5 522.5,596.8 526,563.1 526.5,562.5 528.5,562.5 533.5,616.6 536.5,673.2 537.5,670.5 539.5,670.5 540,672.9 541.5,691.8 541.8,709.1 554.2,709.1 554.5,693.3 558.5,637 559,636.8 561,636.8 564.5,644.6 570.5,675.6 570.8,709.1 574.5,709.1 575,688.6 578.5,640.7 580.5,640.7 584.5,670.9 587.5,644.2 589.5,644.2 591.5,679.6 592,709.1 604.7,709.1 605,677.5 607,614.4 609,614.4 609.5,622.3 611,669.6 611.5,709.1 618.7,709.1 619,679.4 620,650.9 622,650.9 622.5,654.1 628.5,709.1 642.5,709.1 643,693.4 646.5,656.7 648.5,656.7 651,691.6 651.5,709.1 661.5,709.1 662,674.6 664.5,617.3 671,616.6 676,558.4 676.5,557.2 678.5,557.2 684,618.3 684.5,618.8 687.5,610.3 689.5,610.3 690,613.7 695.5,698.5 695.7,709.1 700,709.1 700.5,699.5 704.5,669.5 709,610.4 711,610.4 715.5,680.4 719,669 723,648.3 726.5,587.5 728.5,587.5 732.5,636.1 744,696.3 744.2,709.1 767,709.1 769,701.4 774,635.5 776,635.5 776.5,638.1 780.5,704.8 789.5,686.6 790,683.8 794,632 796.5,585 798.5,585 802,657.6 805.5,692.3 806,692.1 816.5,640.9 817,639.3 819,639.3 821,647.4 821.3,709.1 843,709.1 843.5,683.1 847,617.1 849.5,617.1 852.5,651.8 853,651.7 855.5,633.6 857.5,593.1 859.5,593.1 860.5,599.4 862,572.7 864,572.7 868,647.5 872,661.9 872.9,709.1 873.7,709.1 876,638.8 877,625.8 879,625.8 881,672.3 881.5,709.1 888,709.1 888.5,692.5 897.5,556.2 901.5,541.8 903.5,541.8 909.5,658.7 912.5,637.5 913,635.7 915,635.7 916.5,679.5 916.8,709.1 922,709.1 922.5,657.4 924.5,580.7 926.5,580.7 927,584.2 929.5,620.1 930,622.2 931,616.4 933,616.4 933.5,617.3 936,637.9 938.5,615.8 940.5,615.8 944,678.1 944.3,709.1 949.3,709.1 949.5,673 951,619.8 953,619.8 956,686.8 956.3,709.1 987.7,709.1 988,625.9 993,489.2 995,489.2 995.5,491.4 998,573.5 999.5,597.9 1001,606.1 1005,516.6 1007,516.6 1007.5,518.6 1011.5,609.3 1015.5,666.4 1016,670.3 1019,676.3 1019,709.1Z"/><path id="n5" d="M123.5,709.1 123.5,557.2 127,526 130,515.6 132.5,490.3 134.5,490.3 137.5,517.3 139.5,556.1 143,571.2 145.5,586 147,605.8 149,605.8 149.5,607.5 150.5,632.8 152,636 153.5,643.6 154.5,670.2 154.8,709.1 158.7,709.1 159,660.4 161,660.4 161.5,669.6 161.7,709.1 191.8,709.1 192,702.3 192.5,701 194.5,701 196.5,705 197,701.4 197.5,709.1 198,686 201,639.7 203,639.7 205.5,685 205.7,709.1 211,709.1 212,701.2 218.5,677.3 220.5,677.3 222,684.7 224.5,659.8 226.5,659.8 229.5,692.7 229.7,709.1 237,709.1 237.5,697.8 240.5,679.3 242.5,679.3 243,681.3 244.5,695.2 244.8,709.1 323.7,709.1 324,670.6 325,639.7 327.5,586.9 328,584.5 330,584.5 334.5,631.6 336.5,680.3 337,709.1 347.2,709.1 347.5,681.1 349,651.5 349.5,646.8 354.5,635.8 357.5,633.6 359.5,633.6 363.5,669.9 368,623.8 370,623.8 375,654.1 378.5,698.3 380,688.1 382,688.1 386,702.9 386.5,709.1 391.7,709.1 392,670.4 395,567.1 397,567.1 400.5,649.4 409,700 409.5,709.1 448.4,709.1 449,699.4 451,699.4 451.5,700 452.2,709.1 461.8,709.1 462,649.9 464,649.9 469,692.4 473,703.2 474,709.1 492.5,709.1 493,646.6 496,585.9 498,585.9 500,614.9 501,611.2 503,611.2 503.5,614.7 505.5,663.6 505.8,709.1 541.8,709.1 542,694.5 546.5,635.9 548.5,635.9 554,694.5 554.2,709.1 570.8,709.1 571,689.6 572,689.6 572.5,690.3 574,699.4 574.5,709.1 592,709.1 592.5,696.4 599.5,641.5 602,641.7 604.5,683.8 604.7,709.1 611.5,709.1 612,688.8 614.5,659.8 615,658.7 617,658.7 618.5,684.3 618.7,709.1 631,709.1 631.5,698 636.5,645 638.5,645 639,646.8 642,688.3 642.5,709.1 651.5,709.1 652.5,706 656.5,700.6 658.5,700.6 660.5,704.7 661.5,709.1 695.7,709.1 696,697.5 698,697.5 698.5,698.4 699.5,702.4 700,709.1 744.2,709.1 744.5,694 749,620 751,562.1 753,562.1 756.5,632.2 762,647.5 762.5,650.9 766.5,694.2 767,709.1 821.3,709.1 822,627.1 824,627.1 824.5,628.5 826,646 828.5,653.1 831,691.2 831.5,709.1 833.5,709.1 834,681.8 835,664.3 837,664.3 842.5,699.2 843,709.1 872.9,709.1 873,701.8 873.5,701.8 873.7,709.1 881.5,709.1 882.5,705.2 884.5,701.6 886.5,701.6 887.5,704.2 888,709.1 916.8,709.1 917,686.9 917.5,679.5 918,678.5 920,678.5 921.5,693.1 922,709.1 944.3,709.1 944.5,685 946,649.1 948,649.1 948.5,649.9 949.3,709.1 956.3,709.1 956.5,687.7 958.5,687.7 961,695.6 961.5,692.8 971,580.7 973,580.7 977,662.1 977.5,661.7 983,566 983.5,565.9 985.5,565.9 987.5,632.6 987.7,709.1 1019,709.1Z"/><clipPath id="c6"><rect x="123.5" y="715.4" width="895.5" height="77.1"/></clipPath><path id="p6" d="M123.5,792.5 123.5,703 125.5,681.7 127.5,681.7 128,684.7 130,713.1 131.5,764.8 131.7,792.5 145.3,792.5 145.5,755.2 146.5,723.1 148,716.2 149.5,685.9 151.5,685.9 153.5,720.3 156.5,693.1 158.5,693.1 163.5,703.9 167,717 169.5,737.2 174,717.7 176,717.7 178,762.6 178.5,792.5 186.3,792.5 186.5,774.6 189,736.2 191,736.2 193.5,770 194,792.5 200.3,792.5 200.5,767 203.5,701.5 205.5,701.5 212.5,743.8 214.5,771 215,792.5 231,792.5 231.5,749.3 232.5,732.1 234.5,732.1 235.5,758 236,792.5 244.7,792.5 245,753.7 246,727.1 251.5,716.2 254.5,715.5 257.5,633.4 259.5,633.4 262,715.6 266,719.3 267,738.1 268,727.9 270,727.9 273,771.3 273.3,792.5 303.3,792.5 303.5,776.3 305.5,748.6 309,674.6 311,674.6 314,728.7 315.5,723.7 318,697.9 318.5,696.1 321,696.1 322.4,792.5 326.8,792.5 327,780.5 329,762.5 331,762.5 332.5,780.5 332.7,792.5 360.5,792.5 361,773.2 362.5,752.1 365,752.1 366.5,773.2 366.7,792.5 372.5,792.5 373.5,781.7 374,779 374.5,778.7 376.5,778.7 380,788.5 389.5,735.4 396,730.9 399.5,707.3 405.5,699.4 407.5,699.4 412.5,714.9 416,760.3 416.5,792.5 461.5,792.5 462,768 466,699.2 468,699.2 472,772.6 472.5,792.5 482.1,792.5 482.5,765.4 484.5,711.1 487.5,675 489.5,675 494,706.4 494.5,706.3 498,690.7 500,690.7 500.5,692.6 505,727.9 505.2,792.5 546.3,792.5 547,776.6 549,776.6 549.5,778.6 550,792.5 569.3,792.5 569.5,743.8 572,731.5 577.5,682.2 578,681.8 580,681.8 583.5,707.7 587.5,715.1 595,792.5 600.5,792.5 601,760 603.5,695.5 605.5,695.5 612.5,786.8 618,769.8 620.5,769.7 621.5,778.5 622,792.5 625.7,792.5 626,771.2 628,735.8 630,735.8 634,761.1 639.5,738.4 641.5,738.4 642,742.7 642.5,792.5 650.5,792.5 651,772.4 652.5,748 659.5,692.5 661.5,692.5 662,700.6 664.5,761.2 665,792.5 684.7,792.5 685,762.4 688.5,662.8 690.5,662.8 695,737.4 699,677 701,677 704,766.1 704.4,792.5 705,764.1 709,687.7 711,687.7 713,750.6 713.5,792.5 720,792.5 720.5,780.6 724.5,748.9 725,748.4 727,748.4 729,774.6 729.2,792.5 739.3,792.5 739.5,769.1 742,715.2 747.5,701.4 749.5,701.4 750,704.9 753.5,762.5 754,765.2 756.5,760.1 758.5,760.1 758.7,792.5 802,792.5 802.5,756.4 804,711.6 806,711.6 807.5,760.1 807.8,792.5 869.5,792.5 870,771.8 873.5,726.9 875.5,726.9 880,779.3 883,746.5 885,746.5 885.5,748.8 886.5,766.5 887,792.5 891.8,792.5 892,785 895,767.2 897,767.2 898,778.3 898.3,792.5 949,792.5 949.5,671 954,632.4 956,632.4 961,661 965,696 966,694.3 968,694.3 972,714.5 972.3,792.5 981.2,792.5 982,720.8 988,643.6 990,643.6 990.5,653.9 993.5,745.3 993.8,792.5 1005.8,792.5 1006,760.1 1011,722.9 1013,722.9 1013.5,724.2 1019,768.1 1019,792.5Z"/><path id="n6" d="M123.5,792.5 131.7,792.5 132.5,752 135.5,717.3 139,661.5 139.5,659.4 141.5,659.4 144,708.8 145,741.1 145.3,792.5 178.5,792.5 179,767.1 181.5,729 182,727.2 184,727.2 186,766.4 186.3,792.5 194,792.5 194.5,765.1 196.5,723.9 198.5,723.9 200,760.2 200.3,792.5 215,792.5 215.5,746.3 216.5,715.4 220.5,656.9 222.5,656.9 223,657.4 223.5,660.9 225,650.3 227,650.3 230,711.7 231,792.5 236,792.5 236.5,773.4 240,733.1 240.5,732.2 242.5,732.2 244.5,766.7 244.7,792.5 273.3,792.5 273.5,774.5 279,700 284,676.9 287.5,637.9 291.5,628.3 293.5,628.3 297,654.4 300,665.5 303.3,792.5 322.4,792.5 323,759.9 325,759.9 325.5,761.8 326.5,776 326.8,792.5 332.7,792.5 333,780.3 335.5,760 346,718.1 348,718.1 352,751.8 352.5,754.6 357.5,767.3 360,782.6 360.5,792.5 366.7,792.5 367,761.5 368,733.9 370,733.9 370.5,735.6 372,764.1 372.5,792.5 416.5,792.5 417,711.9 419,627.5 421,627.5 425,648.3 432.5,699.7 433,699.2 435.5,686.2 441.5,649.4 442,647.7 444,647.7 449,698.7 453,710.8 456.5,782.8 457.5,781.8 459.5,781.8 460.5,785 461.5,792.5 472.5,792.5 473,785.4 478,767.4 480,767.4 481.5,778.2 482.1,792.5 505.2,792.5 505.5,715.1 510.5,678.1 515,605.1 517,605.1 520.5,664.5 525,627.3 527.5,627.3 532,665.3 532.5,665.4 536.5,658 538.5,658 546,777.1 546.3,792.5 550,792.5 550.5,767.9 552,741.7 554,741.7 558.5,783.3 560.5,781.8 561,779 566.5,734.2 568.5,734.2 569,735.2 569.3,792.5 595,792.5 595.5,774.5 596.5,762.5 598.5,762.5 600,776 600.5,792.5 622,792.5 622.5,776.1 623,775.6 625,775.6 625.7,792.5 642.5,792.5 643,777.1 647,777.9 650,786.9 650.5,792.5 665,792.5 665.5,772.9 670,721.3 674,704.7 676,704.7 676.5,707.9 680,756.5 680.5,756.4 681.5,754 683.5,754 684.5,769.4 684.7,792.5 704.4,792.5 704.5,787.6 704.6,792.5 713.5,792.5 714,775.4 716,754.8 718,754.8 718.5,759.5 719.5,772.7 720,792.5 729.2,792.5 729.5,771 733,704 735,704 735.5,706.3 739,764.6 739.3,792.5 758.7,792.5 759,759.9 760,737.3 760.5,734.9 762.5,734.9 766,781.4 766.5,780.9 775,721.8 775.5,721.1 777.5,721.1 789,767.2 792,758.7 794,758.7 799,766.9 801.5,781.6 802,792.5 807.8,792.5 808,764.8 811,713.7 811.5,711.1 813.5,711.1 814,713.8 818.5,771.2 819,769.4 823.5,706.1 829,667.8 831,667.8 831.5,668.5 836,710.4 838.5,702.8 840.5,702.8 844,768.2 845,777.9 849,685 851,685 855,758.6 855.5,761.7 860,762.4 863,786.3 863.5,786 866,777.2 868,777.2 869,783.3 869.5,792.5 887,792.5 888,771.3 890,771.3 890.5,772.2 891.5,781.3 891.8,792.5 898.3,792.5 898.5,783 899.5,776.1 905,751.3 907.5,751.5 912,778.8 912.5,778.3 917,750.6 919,750.6 922,763.1 928.5,714.9 931.5,706.1 933.5,706.1 934,709 936,737.5 936.5,738.8 944.5,661.9 946.5,661.9 948.5,697.6 949,792.5 972.3,792.5 972.5,721.5 975.5,675.5 978,675.5 981,754.3 981.2,792.5 993.8,792.5 994,755.2 995,722.6 998.5,693.2 1000.5,693.2 1005.5,754.3 1005.8,792.5 1019,792.5Z"/><clipPath id="c7"><rect x="123.5" y="798.8" width="895.5" height="77.1"/></clipPath><path id="p7" d="M123.5,875.9 123.5,761.8 128.5,692.6 130.5,692.6 131,693.8 133.5,721.7 135.5,771.1 137,762.6 137.5,755.3 139,710.2 141,710.2 142.5,733.1 147,875.9 180,875.9 180.5,832 181.5,802.7 183.5,802.7 185.5,846.6 186,875.9 204.3,875.9 204.5,865.8 206.5,865.8 206.7,875.9 226.5,875.9 227,852.8 228.5,852.8 230.5,865.7 232.5,836.4 239,798.8 246.5,750.3 248.5,750.3 251,786.7 251.5,785.9 254,766.5 256,766.5 258.5,831.2 258.9,875.9 274,875.9 274.5,855.6 278.5,794.4 280.5,794.4 281,797.2 285,860.2 285.5,875.9 319.2,875.9 319.5,851.3 321,823.5 323,823.5 323.5,825.4 327,854.4 331.5,810.4 338.5,799.3 340,742.6 342,742.6 345,784.8 345.5,784.4 348.5,758 358,736.8 360,736.8 360.5,738.1 364.5,758.6 370,753.4 372,753.4 377,776.1 377.5,777.6 382.5,784.8 387.5,858.2 387.7,875.9 413.7,875.9 414,861.7 418,816.7 420,816.7 421.5,821.9 422,821.9 425,804.2 427,804.2 427.5,813.7 428,875.9 432.2,875.9 432.5,853.7 435.5,787.1 437,767.4 437.5,765.2 439.5,765.2 440.5,776.3 441,776.2 442.5,757 444.5,757 448,835.5 451,864.4 451.2,875.9 462.8,875.9 463,856.8 467,797.8 472,735.6 474,735.6 474.5,741.3 478,808.6 480.5,801.8 482.5,801.8 486.5,859.2 486.7,875.9 517.8,875.9 518,866 525.5,794.1 527.5,794.1 528,795.2 532.5,861.3 532.8,875.9 537.5,875.9 538,825.7 539,786.9 541,786.9 541.5,789.3 542.5,825.1 543,875.9 548,875.9 548.5,834 551,757.6 551.5,753.8 553.5,753.8 557.5,851.5 558,875.9 565.3,875.9 565.5,870.8 568,859.7 570,859.7 570.4,875.9 572.7,875.9 573.5,857.7 575.5,857.7 576,861.5 576.2,875.9 585,875.9 585.5,869.3 586.5,865.9 588.5,865.9 589,866.7 589.5,875.9 632.3,875.9 632.5,862.6 635.5,822.6 637.5,822.6 638,824 641.5,861.3 641.8,875.9 661.5,875.9 662,845.8 664.5,791.7 666.5,791.7 672,829.9 678.5,782.9 680.5,782.9 683.5,787.7 684,784.3 688,714 690,714 690.5,720.7 694,853.6 695,863.5 695.4,875.9 734.8,875.9 735,867.3 737.5,852 740,852 742.5,867.3 743,875.9 748,875.9 748.5,838.6 752,745.8 752.5,739.6 754.5,739.6 755.5,754.4 757.5,736.8 759.5,736.8 761.5,823.8 761.8,875.9 767,875.9 768,850.2 772,825.8 774,825.8 774.5,831.2 776,855.6 776.2,875.9 780.2,875.9 780.5,850 782.5,802.2 783,801.8 785,801.8 789.5,808.5 796,840.2 800,816.5 802,816.5 802.5,817.5 807,861.3 807.5,875.9 815.3,875.9 815.5,863.7 817.5,841 818,835.9 819,835.9 821.5,805.8 823.5,805.8 825,814.5 826.5,802.7 828.5,802.7 829,803.5 836.5,860.2 837,875.9 845.7,875.9 846.5,831.5 848.5,831.5 849,834.5 849.7,875.9 865.2,875.9 865.5,862.2 871.5,793 873.5,793 874,798.3 877,853.7 877.4,875.9 879,875.9 879.5,868 882,856.4 884,856.4 887.5,869.2 888,865.9 892.5,798.3 898.5,727.3 900.5,727.3 907,820.5 907.5,821.8 913,756.1 915,756.1 919.5,795.3 921,797 923,787.5 925,787.5 927.5,818.3 930,817.9 930.5,819.7 934,867.6 938,843.9 940,843.9 942.5,863.6 943,875.9 968.5,875.9 969.5,789.5 975.5,732.5 976,730.8 978,730.8 978.5,729.2 980.5,684.1 982.5,684.1 986,805.9 986.8,875.9 1019,875.9Z"/><path id="n7" d="M123.5,875.9 155,875.9 155.5,865.9 158,849.3 160,849.3 160.5,851 162,863.4 162.5,875.9 163,855.1 167.5,793.1 169.5,732.1 171.5,732.1 175,788.4 175.5,789.5 176.5,788.8 178.5,788.8 179.5,823.7 180,875.9 186,875.9 186.5,852.3 187.5,839.7 194.5,808.8 195,808.6 197,808.6 204,865.1 204.3,875.9 206.7,875.9 207,862.6 210,835.4 212,835.4 215.5,857.4 216,857.7 217,856.4 219,856.4 219.5,856.9 222,870.4 224,862.1 226,862.1 226.5,875.9 258.9,875.9 259.5,842.3 264.5,801.6 266.5,775.7 268.5,775.7 272,861.3 273.5,868.2 274,875.9 285.5,875.9 286,873.4 290.5,867.7 292.5,867.7 293.5,870.3 298,796.2 300,796.2 300.5,800.3 302.5,837.7 303,835.7 305,835.7 307.5,871.7 309,868.2 311,868.2 312,870 312.5,875.9 313,858.2 315.5,828.6 317.5,828.6 318,833.1 319,852.5 319.2,875.9 387.7,875.9 388,857.5 391,817.2 393,817.2 402.5,862.3 409,838.9 411,838.9 413.5,863.6 413.7,875.9 428,875.9 428.5,833.8 430.5,833.8 432,854.8 432.2,875.9 451.2,875.9 451.5,857.4 457,779 459,779 462.5,851.1 462.8,875.9 486.7,875.9 487,856.2 492.5,776.3 494.5,776.3 499.5,810.1 500,809.7 504,748 506,748 510.5,828.2 517,862.5 517.8,875.9 532.8,875.9 533,864.8 534.5,853.7 536.5,853.7 537,857 537.5,875.9 543,875.9 544.5,857.3 546.5,857.3 547.5,864.4 548,875.9 558,875.9 558.5,868.9 561,860 563.5,860.1 565,868.3 565.3,875.9 570.4,875.9 571,865.6 572.5,865.6 572.7,875.9 576.2,875.9 576.5,855.4 579,814.3 581,814.3 584.5,861.4 585,875.9 589.5,875.9 590,852.1 592,811.8 594,753.4 596,753.4 600,834 602.5,862.5 605.5,829.4 610.5,792.4 612.5,792.4 613,794 617.5,832.3 621,786.1 623,786.1 627.5,831.2 632,862.1 632.3,875.9 641.8,875.9 642,861.8 644,836.6 646,836.6 651.5,871 658.5,843.1 660.5,843.1 661.5,875.9 695.4,875.9 696,868.6 697.5,869.1 699,871.9 699.5,868.7 702.5,796.1 705.5,748.8 707.5,748.8 710.5,812.5 712.5,829.2 713,830 714.5,829.7 715,828.7 721,793.2 723.5,793.3 729,802.2 734.5,863.2 734.8,875.9 743,875.9 744,869.8 746,869.8 748,875.9 761.8,875.9 762,844.4 762.5,832.5 763,830.5 765,830.5 766.5,854.2 767,875.9 776.2,875.9 777,849.1 779,849.1 780,860.2 780.2,875.9 807.5,875.9 808,854.4 810,825.6 810.5,825.2 812.5,825.2 815,857.6 815.3,875.9 837,875.9 837.5,857.2 841,810.8 843,810.8 843.5,813.9 845.5,853.6 845.7,875.9 849.7,875.9 850,842.7 851.5,799.8 853.5,799.8 856,852.4 858,857.3 860.5,849.5 863,849.4 865,865.6 865.2,875.9 877.4,875.9 878,869.9 878.5,869.9 879,875.9 943,875.9 945.5,867.4 949.5,834.5 951.5,834.5 954.5,852 958.5,797.8 963,780.4 965,780.4 968,825.8 968.5,875.9 986.8,875.9 987,846 988.5,816.3 990.5,816.3 994.5,865.6 998,836.8 1000,836.8 1002.5,870.2 1003,870.9 1003.5,869.8 1005.5,869.8 1006.5,871.9 1010.5,834.7 1015.5,758.9 1017.5,758.9 1019,764.4 1019,875.9Z"/></defs>
<g clip-path="url(#c0)"><use href="#p0" fill="#D7E0D6" transform="translate(0,0)"/><use href="#n0" fill="#F4DD8D" transform="translate(0,0)"/><use href="#p0" fill="#36AAA8" transform="translate(0,77.1)"/><use href="#n0" fill="#E88402" transform="translate(0,77.1)"/><use href="#p0" fill="#324E9F" transform="translate(0,154.2)"/><use href="#n0" fill="#A31321" transform="translate(0,154.2)"/></g>
<text x="124.3" y="291.4" font-size="19.3" fill="#000">2004</text>
<rect x="123.5" y="214.9" width="895.5" height="77.1" fill="none" stroke="#000" stroke-width="1.6" stroke-linejoin="round"/>
<g clip-path="url(#c1)"><use href="#p1" fill="#D7E0D6" transform="translate(0,0)"/><use href="#n1" fill="#F4DD8D" transform="translate(0,0)"/><use href="#p1" fill="#36AAA8" transform="translate(0,77.1)"/><use href="#n1" fill="#E88402" transform="translate(0,77.1)"/><use href="#p1" fill="#324E9F" transform="translate(0,154.2)"/><use href="#n1" fill="#A31321" transform="translate(0,154.2)"/></g>
<text x="124.3" y="374.8" font-size="19.3" fill="#000">2005</text>
<rect x="123.5" y="298.3" width="895.5" height="77.1" fill="none" stroke="#000" stroke-width="1.6" stroke-linejoin="round"/>
<g clip-path="url(#c2)"><use href="#p2" fill="#D7E0D6" transform="translate(0,0)"/><use href="#n2" fill="#F4DD8D" transform="translate(0,0)"/><use href="#p2" fill="#36AAA8" transform="translate(0,77.1)"/><use href="#n2" fill="#E88402" transform="translate(0,77.1)"/><use href="#p2" fill="#324E9F" transform="translate(0,154.2)"/><use href="#n2" fill="#A31321" transform="translate(0,154.2)"/><path fill="#D7E0D6" d="M474.6,458.8 476.2,381.7 506.5,408.7 506.5,458.8 Z"/><path fill="#36AAA8" d="M475,458.8 476.2,422.6 505.4,458.8 Z"/></g>
<text x="124.3" y="458.2" font-size="19.3" fill="#000">2006</text>
<rect x="123.5" y="381.7" width="895.5" height="77.1" fill="none" stroke="#000" stroke-width="1.6" stroke-linejoin="round"/>
<g clip-path="url(#c3)"><use href="#p3" fill="#D7E0D6" transform="translate(0,0)"/><use href="#n3" fill="#F4DD8D" transform="translate(0,0)"/><use href="#p3" fill="#36AAA8" transform="translate(0,77.1)"/><use href="#n3" fill="#E88402" transform="translate(0,77.1)"/><use href="#p3" fill="#324E9F" transform="translate(0,154.2)"/><use href="#n3" fill="#A31321" transform="translate(0,154.2)"/></g>
<text x="124.3" y="541.7" font-size="19.3" fill="#000">2007</text>
<rect x="123.5" y="465.2" width="895.5" height="77.1" fill="none" stroke="#000" stroke-width="1.6" stroke-linejoin="round"/>
<g clip-path="url(#c4)"><use href="#p4" fill="#D7E0D6" transform="translate(0,0)"/><use href="#n4" fill="#F4DD8D" transform="translate(0,0)"/><use href="#p4" fill="#36AAA8" transform="translate(0,77.1)"/><use href="#n4" fill="#E88402" transform="translate(0,77.1)"/><use href="#p4" fill="#324E9F" transform="translate(0,154.2)"/><use href="#n4" fill="#A31321" transform="translate(0,154.2)"/></g>
<text x="124.3" y="625.1" font-size="19.3" fill="#000">2008</text>
<rect x="123.5" y="548.6" width="895.5" height="77.1" fill="none" stroke="#000" stroke-width="1.6" stroke-linejoin="round"/>
<g clip-path="url(#c5)"><use href="#p5" fill="#D7E0D6" transform="translate(0,0)"/><use href="#n5" fill="#F4DD8D" transform="translate(0,0)"/><use href="#p5" fill="#36AAA8" transform="translate(0,77.1)"/><use href="#n5" fill="#E88402" transform="translate(0,77.1)"/><use href="#p5" fill="#324E9F" transform="translate(0,154.2)"/><use href="#n5" fill="#A31321" transform="translate(0,154.2)"/></g>
<text x="124.3" y="708.5" font-size="19.3" fill="#000">2009</text>
<rect x="123.5" y="632" width="895.5" height="77.1" fill="none" stroke="#000" stroke-width="1.6" stroke-linejoin="round"/>
<g clip-path="url(#c6)"><use href="#p6" fill="#D7E0D6" transform="translate(0,0)"/><use href="#n6" fill="#F4DD8D" transform="translate(0,0)"/><use href="#p6" fill="#36AAA8" transform="translate(0,77.1)"/><use href="#n6" fill="#E88402" transform="translate(0,77.1)"/><use href="#p6" fill="#324E9F" transform="translate(0,154.2)"/><use href="#n6" fill="#A31321" transform="translate(0,154.2)"/></g>
<text x="124.3" y="791.9" font-size="19.3" fill="#000">2010</text>
<rect x="123.5" y="715.4" width="895.5" height="77.1" fill="none" stroke="#000" stroke-width="1.6" stroke-linejoin="round"/>
<g clip-path="url(#c7)"><use href="#p7" fill="#D7E0D6" transform="translate(0,0)"/><use href="#n7" fill="#F4DD8D" transform="translate(0,0)"/><use href="#p7" fill="#36AAA8" transform="translate(0,77.1)"/><use href="#n7" fill="#E88402" transform="translate(0,77.1)"/><use href="#p7" fill="#324E9F" transform="translate(0,154.2)"/><use href="#n7" fill="#A31321" transform="translate(0,154.2)"/></g>
<text x="124.3" y="875.3" font-size="19.3" fill="#000">2011</text>
<rect x="123.5" y="798.8" width="895.5" height="77.1" fill="none" stroke="#000" stroke-width="1.6" stroke-linejoin="round"/>
<rect x="1031.8" y="214.8" width="36.2" height="110.5" fill="#324E9F"/>
<rect x="1031.8" y="325" width="36.2" height="110.5" fill="#36AAA8"/>
<rect x="1031.8" y="435.2" width="36.2" height="110.5" fill="#D7E0D6"/>
<rect x="1031.8" y="545.4" width="36.2" height="110.5" fill="#F4DD8D"/>
<rect x="1031.8" y="655.6" width="36.2" height="110.5" fill="#E88402"/>
<rect x="1031.8" y="765.8" width="36.2" height="110.5" fill="#A31321"/>
<rect x="1031.8" y="214.8" width="36.2" height="661.2" fill="none" stroke="#000" stroke-width="1.6"/>
<line x1="1068" y1="214.8" x2="1077.5" y2="214.8" stroke="#000" stroke-width="1.6"/>
<text x="1086.5" y="222.7" font-size="20.3" fill="#000">9.025</text>
<line x1="1068" y1="325" x2="1077.5" y2="325" stroke="#000" stroke-width="1.6"/>
<text x="1086.5" y="332.9" font-size="20.3" fill="#000">6.017</text>
<line x1="1068" y1="435.2" x2="1077.5" y2="435.2" stroke="#000" stroke-width="1.6"/>
<text x="1086.5" y="443.1" font-size="20.3" fill="#000">3.008</text>
<line x1="1068" y1="545.4" x2="1077.5" y2="545.4" stroke="#000" stroke-width="1.6"/>
<text x="1086.5" y="553.3" font-size="20.3" fill="#000">0</text>
<line x1="1068" y1="655.6" x2="1077.5" y2="655.6" stroke="#000" stroke-width="1.6"/>
<text x="1086.5" y="663.5" font-size="20.3" fill="#000">-3.008</text>
<line x1="1068" y1="765.8" x2="1077.5" y2="765.8" stroke="#000" stroke-width="1.6"/>
<text x="1086.5" y="773.7" font-size="20.3" fill="#000">-6.017</text>
<line x1="1068" y1="876" x2="1077.5" y2="876" stroke="#000" stroke-width="1.6"/>
<text x="1086.5" y="883.9" font-size="20.3" fill="#000">-9.025</text>
<text x="571" y="906.7" font-size="24.8" text-anchor="middle" fill="#000">Time</text>
</svg>
<div id="s">src: @CodingClubUC3M</div>
</body></html>
